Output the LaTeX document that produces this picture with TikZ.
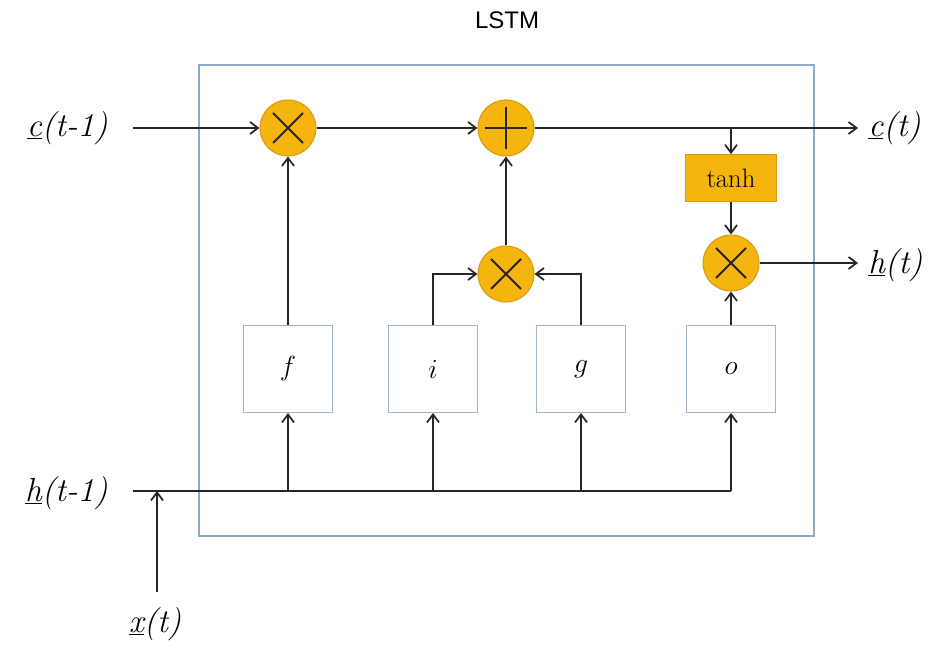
\documentclass[tikz,border=0pt]{standalone}
\usepackage{fontspec}
\newfontfamily\labelsans{Liberation Sans}
\usetikzlibrary{arrows.meta}
\definecolor{gateorange}{HTML}{F6B40E}
\definecolor{gateedge}{HTML}{D99A10}
\definecolor{frameblue}{HTML}{8EAACB}
\definecolor{boxblue}{HTML}{A3B4C8}
\tikzset{
  flow/.style={line width=1.4pt, draw=black!85},
  arr/.style={flow, -{Straight Barb[length=6pt,width=9pt,line width=1.3pt]}},
  opnode/.style={circle, minimum size=42pt, inner sep=0pt, fill=gateorange, draw=gateedge, line width=0.8pt},
  gatebox/.style={rectangle, minimum width=67pt, minimum height=65pt, draw=boxblue, line width=1pt, fill=white, font=\fontsize{21}{24}\selectfont},
  iolabel/.style={font=\fontsize{25}{28}\selectfont\itshape, inner sep=0pt},
}
\newcommand{\opcross}[1]{%
  \draw[line width=1.5pt, black!85] ([shift={(-15,-15)}]#1.center) -- ([shift={(15,15)}]#1.center)
        ([shift={(-15,15)}]#1.center) -- ([shift={(15,-15)}]#1.center);}
\newcommand{\opplus}[1]{%
  \draw[line width=1.5pt, black!85] ([shift={(-21,0)}]#1.center) -- ([shift={(21,0)}]#1.center)
        ([shift={(0,-21)}]#1.center) -- ([shift={(0,21)}]#1.center);}
\begin{document}
\begin{tikzpicture}[x=0.75pt, y=-0.75pt]
\useasboundingbox (0,0) rectangle (935,648);

% cell frame and title
\node[font=\labelsans\fontsize{18}{20}\selectfont] (title) at (507,20) {LSTM};
\draw[frameblue, line width=1pt] (199,65) rectangle (814,536);

% pointwise operations
\node[opnode] (m1) at (288,128) {};
\node[opnode] (add) at (506,128) {};
\node[opnode] (m2) at (506,274) {};
\node[opnode] (m3) at (731,263) {};
\opcross{m1}\opplus{add}\opcross{m2}\opcross{m3}
\node[rectangle, minimum width=68pt, minimum height=35pt, fill=gateorange, draw=gateedge, line width=0.8pt, font=\fontsize{20}{22}\selectfont] (tanh) at (731,178) {tanh};

% gates
\node[gatebox] (f) at (288,369) {$f$};
\node[gatebox] (i) at (433,369) {$i$};
\node[gatebox] (g) at (581,369) {$g$};
\node[gatebox] (o) at (731,369) {$o$};

% inputs and outputs
\node[iolabel, anchor=east] (cin) at (108,128) {\underline{c}(t-1)};
\node[iolabel, anchor=west] (cout) at (868,128) {\underline{c}(t)};
\node[iolabel, anchor=west] (hout) at (868,265) {\underline{h}(t)};
\node[iolabel, anchor=east] (hin) at (108,493) {\underline{h}(t-1)};
\node[iolabel] (xin) at (155,624) {\underline{x}(t)};

\coordinate (busL) at (133,491);
\coordinate (busR) at (731,491);
\coordinate (xjoin) at (157,491);
\coordinate (xbot) at (157,592);
\coordinate (cinS) at (133,128);
\coordinate (coutE) at (858,128);
\coordinate (houtE) at (858,263);
\coordinate (tap) at (731,128);

% cell state path
\draw[arr] (cinS) -- (m1);
\draw[arr] (m1) -- (add);
\draw[arr] (add) -- (coutE);
\draw[arr] (tap) -- (tanh);
\draw[arr] (tanh) -- (m3);
\draw[arr] (m3) -- (houtE);

% gate outputs
\draw[arr] (f) -- (m1);
\draw[arr] (i.north) |- (m2.west);
\draw[arr] (g.north) |- (m2.east);
\draw[arr] (m2) -- (add);
\draw[arr] (o) -- (m3);

% hidden state / input bus
\draw[flow] (busL) -- (busR);
\draw[arr] (xbot) -- (xjoin);
\draw[arr] (f.south |- busL) -- (f.south);
\draw[arr] (i.south |- busL) -- (i.south);
\draw[arr] (g.south |- busL) -- (g.south);
\draw[arr] (o.south |- busR) -- (o.south);
\end{tikzpicture}
\end{document}
